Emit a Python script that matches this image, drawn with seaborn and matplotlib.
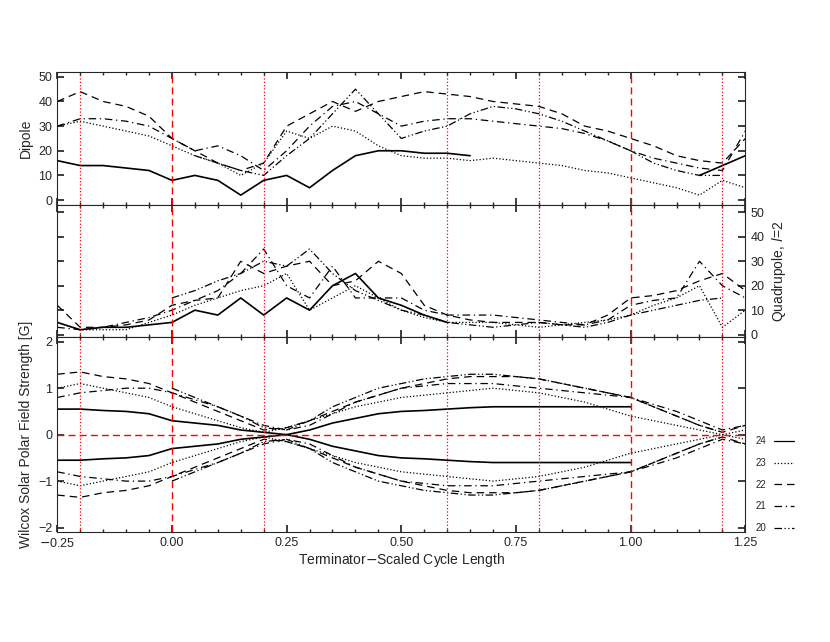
import numpy as np
import matplotlib
matplotlib.use("Agg")
import matplotlib.pyplot as plt
import seaborn as sns
from matplotlib.lines import Line2D

sns.set_theme(style="ticks")
plt.rcParams['font.family'] = ['Liberation Sans', 'DejaVu Sans']

n = np.nan
x = [-0.25,-0.2,-0.15,-0.1,-0.05,0,0.05,0.1,0.15,0.2,0.25,0.3,0.35,0.4,0.45,0.5,0.55,0.6,0.65,0.7,0.75,0.8,0.85,0.9,0.95,1.0,1.05,1.1,1.15,1.2,1.25]

dip24 = [16,14,14,13,12,8,10,8,2,8,10,5,12,18,20,20,19,19,18,n,n,n,n,n,n,n,n,n,10,14,18]
dip23 = [30,32,30,28,26,22,18,15,10,15,28,25,30,28,22,18,17,17,16,17,16,15,14,12,11,9,7,5,2,8,5]
dip22 = [40,44,40,38,34,25,20,15,12,15,30,35,40,36,40,42,44,43,42,40,39,38,35,30,28,25,22,18,16,15,25]
dip21 = [30,33,33,32,30,25,20,22,18,12,20,30,38,40,35,30,32,33,33,32,31,30,29,27,24,20,17,15,13,12,28]
dip20 = [n,n,n,n,n,n,18,15,12,10,18,25,35,45,35,25,28,30,35,38,37,35,32,28,24,20,15,12,10,10,n]

quad24 = [5,2,3,3,4,5,10,8,15,8,15,10,20,25,15,12,8,5,n,n,n,n,n,n,n,n,n,n,n,n,n]
quad23 = [5,2,2,2,5,8,12,15,18,20,25,10,15,20,15,10,7,5,5,5,4,3,4,5,6,8,12,15,20,3,10]
quad22 = [12,3,3,4,6,12,14,15,30,25,28,30,20,22,30,25,12,8,6,5,5,5,4,4,8,15,16,18,22,25,18]
quad21 = [3,2,3,5,7,10,14,18,25,35,20,15,28,15,15,15,10,8,8,8,7,6,5,4,6,12,14,15,30,20,15]
quad20 = [n,n,n,n,n,15,18,22,25,30,28,35,25,18,14,10,8,5,4,3,4,5,4,3,5,8,10,12,14,15,n]

pol24 = [0.55,0.55,0.52,0.5,0.45,0.3,0.25,0.2,0.1,0.05,0.0,0.1,0.25,0.35,0.45,0.5,0.52,0.55,0.58,0.6,0.6,0.6,0.6,0.6,0.6,0.6,n,n,n,n,n]
pol23 = [1.0,1.1,1.0,0.9,0.8,0.6,0.45,0.3,0.15,0.05,0.15,0.3,0.45,0.6,0.7,0.8,0.85,0.9,0.95,1.0,0.95,0.9,0.8,0.7,0.55,0.4,0.3,0.2,0.1,0.0,0.1]
pol22 = [1.3,1.35,1.25,1.2,1.1,0.9,0.7,0.5,0.3,0.1,0.15,0.3,0.5,0.7,0.85,1.0,1.1,1.2,1.25,1.25,1.25,1.2,1.1,1.0,0.9,0.8,0.6,0.4,0.2,0.05,0.2]
pol21 = [0.8,0.9,0.95,1.0,1.0,0.9,0.75,0.6,0.4,0.2,0.1,0.2,0.45,0.7,0.85,1.0,1.05,1.1,1.1,1.1,1.05,1.0,0.95,0.9,0.85,0.8,0.65,0.5,0.3,0.1,0.2]
pol20 = [n,n,n,n,n,1.0,0.8,0.6,0.4,0.15,0.1,0.3,0.6,0.8,1.0,1.1,1.2,1.25,1.3,1.3,1.25,1.2,1.1,1.0,0.9,0.8,0.6,0.4,0.2,0.05,n]

cycles = ['24','23','22','21','20']
styles = ['-', ':', (0,(6,4)), (0,(6,3,1,3)), (0,(6,2,1,2,1,2))]
dips = [dip24,dip23,dip22,dip21,dip20]
quads = [quad24,quad23,quad22,quad21,quad20]
pols = [pol24,pol23,pol22,pol21,pol20]

fig = plt.figure(figsize=(8.3,6.42), dpi=100)
gs = fig.add_gridspec(3,1,height_ratios=[133,132,195],hspace=0,left=0.069,right=0.898,top=0.888,bottom=0.171)
axs = [fig.add_subplot(gs[i]) for i in range(3)]
xa = np.array(x)

def draw(ax, arr, ls, sign=1, lw=0.9):
    a = np.array(arr, dtype=float)*sign
    # split at NaNs
    m = ~np.isnan(a)
    idx = np.where(m)[0]
    if len(idx)==0: return
    groups = np.split(idx, np.where(np.diff(idx)>1)[0]+1)
    for g in groups:
        sns.lineplot(x=xa[g], y=a[g], ax=ax, color='black', linestyle=ls, linewidth=lw, estimator=None, sort=False)

for i in range(5):
    lw = 1.2 if i==0 else 0.9
    draw(axs[0], dips[i], styles[i], lw=lw)
    draw(axs[1], quads[i], styles[i], lw=lw)
    draw(axs[2], pols[i], styles[i], 1, lw)
    draw(axs[2], pols[i], styles[i], -1, lw)

for ax in axs:
    ax.set_xlim(-0.25,1.25)
    for v in [-0.2,0.2,0.6,0.8,1.2]:
        ax.axvline(v,color='red',linestyle=':',linewidth=0.9)
    for v in [0.0,1.0]:
        ax.axvline(v,color='red',linestyle=(0,(5,3)),linewidth=1.0)
    ax.tick_params(direction='in',top=True,right=True,labelsize=9,length=5)
    ax.set_xticks([-0.25,0,0.25,0.5,0.75,1.0,1.25])
    ax.set_xticks(np.arange(-0.25,1.26,0.05),minor=True)
    ax.tick_params(which='minor',direction='in',top=True,length=2.5)
    for s in ax.spines.values(): s.set_linewidth(0.8)

axs[0].set_ylim(-2,52); axs[0].set_yticks([0,10,20,30,40,50]); axs[0].set_ylabel('Dipole',fontsize=10)
axs[1].set_ylim(-1,53); axs[1].set_yticks([0,10,20,30,40,50])
axs[1].yaxis.set_label_position('right'); axs[1].yaxis.tick_right()
axs[1].tick_params(axis='y',left=True,right=True,labelleft=False,labelright=True)
axs[1].set_ylabel('Quadrupole, $l$=2',fontsize=10)
axs[2].axhline(0,color='red',linestyle=(0,(5,3)),linewidth=1.0)
axs[2].set_ylim(-2.1,2.1); axs[2].set_yticks([-2,-1,0,1,2])
axs[2].set_ylabel('Wilcox Solar Polar Field Strength [G]',fontsize=10)
axs[2].set_xlabel('Terminator$-$Scaled Cycle Length',fontsize=10,labelpad=1)
for ax in axs[:2]:
    ax.tick_params(labelbottom=False)
    ax.set_xlabel('')
axs[2].set_xticklabels(['$-$0.25','0.00','0.25','0.50','0.75','1.00','1.25'])

handles = [Line2D([0],[0],color='black',linestyle=styles[i],linewidth=0.9) for i in range(5)]
fig.legend(handles,cycles,loc='center left',bbox_to_anchor=(0.9,0.245),frameon=False,
           markerfirst=False,fontsize=7,handlelength=2,labelspacing=1.2)
fig.savefig('out.png',dpi=100)
